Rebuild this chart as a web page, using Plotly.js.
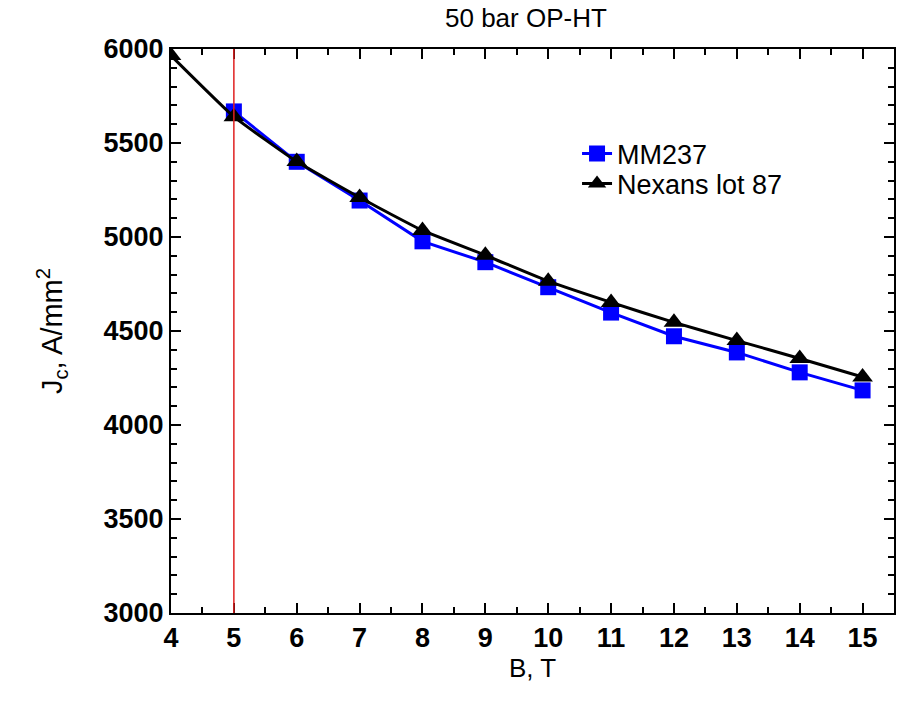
<!DOCTYPE html>
<html><head><meta charset="utf-8">
<script src="https://cdn.plot.ly/plotly-3.0.1.min.js"></script>
<style>body{margin:0;background:#fff}#c{width:899px;height:701px}</style>
</head><body><div id="c"></div>
<script>
const mmB = [5,6,7,8,9,10,11,12,13,14,15];
const mmJc = [5668,5400,5194,4977,4866,4733,4598,4472,4386,4280,4184];
const nxB = [4,5,6,7,8,9,10,11,12,13,14,15];
const nxJc = [5965,5640,5401,5210,5035,4903,4765,4652,4546,4449,4354,4255];
const refB = 5;
const names = ["MM237","Nexans lot 87"];

const axisCommon = {
  showline:true, linecolor:'#000', linewidth:2, mirror:'ticks',
  ticks:'inside', ticklen:10, tickwidth:2, tickcolor:'#000',
  showgrid:false, zeroline:false,
  tickfont:{family:'Arial, Liberation Sans, sans-serif', size:27, color:'#000', weight:'bold'}
};
const data = [
  {x:mmB, y:mmJc, name:names[0], mode:'lines+markers', legend:'legend',
   line:{color:'#0000ff', width:3}, marker:{symbol:'square', size:16, color:'#0000ff'}},
  {x:nxB, y:nxJc, name:names[1], mode:'lines+markers', legend:'legend2',
   line:{color:'#000', width:3, shape:'spline', smoothing:0.4},
   marker:{symbol:'triangle-up', size:18, color:'#000'}}
];
const legendCommon = {xanchor:'left', yanchor:'middle', bgcolor:'rgba(0,0,0,0)', font:{size:27}, borderwidth:0};
const layout = {
  width:899, height:701,
  margin:{l:171, r:5, t:49, b:88},
  paper_bgcolor:'#fff', plot_bgcolor:'#fff',
  font:{family:'Arial, Liberation Sans, sans-serif', color:'#000'},
  title:{text:'50 bar OP-HT', font:{size:26, color:'#000'}, x:0.585, xanchor:'center', y:0.975, yanchor:'middle'},
  xaxis:Object.assign({}, axisCommon, {range:[4,15.5], dtick:1, tick0:4,
    minor:{dtick:0.5, ticks:'inside', ticklen:6, tickwidth:2, tickcolor:'#000'},
    title:{text:'B, T', font:{size:26}, standoff:0}}),
  yaxis:Object.assign({}, axisCommon, {range:[3000,6000], dtick:500, tick0:3000,
    minor:{dtick:100, ticks:'inside', ticklen:6, tickwidth:2, tickcolor:'#000'},
    title:{text:'J<sub>c</sub>, A/mm<sup>2</sup>', font:{size:29}, standoff:32}}),
  shapes:[{type:'line', xref:'x', yref:'paper', x0:refB, x1:refB, y0:0, y1:1, line:{color:'#e02020', width:1.5}}],
  legend:Object.assign({x:0.5616, y:0.8138}, legendCommon),
  legend2:Object.assign({x:0.5616, y:0.7606}, legendCommon),
  showlegend:true
};
Plotly.newPlot('c', data, layout, {displayModeBar:false, staticPlot:true});
</script></body></html>
